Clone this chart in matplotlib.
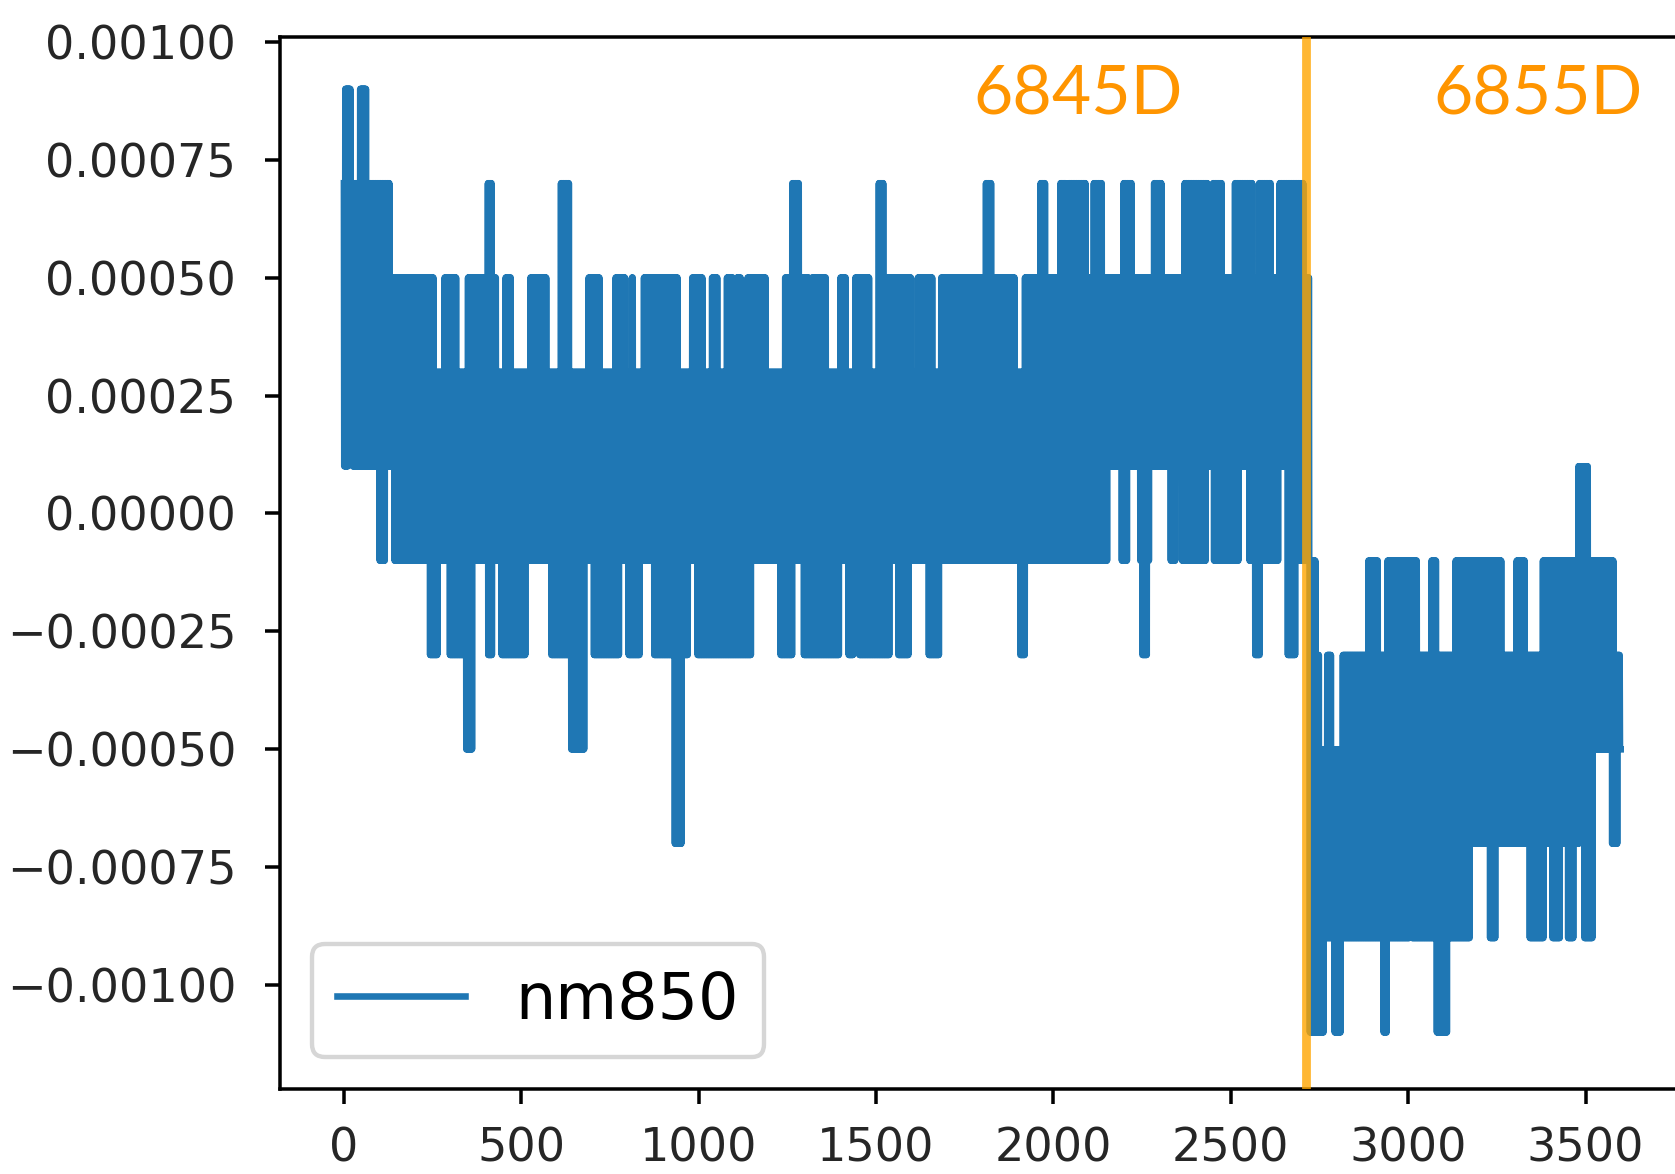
import numpy as np
import matplotlib
matplotlib.use("Agg")
import matplotlib.pyplot as plt
from matplotlib.ticker import FixedLocator, FuncFormatter

# signal nm850: 3600 samples, quantised in steps of 2e-4.
# read from the picture as an envelope: (start sample, level in units of 1e-4)
# each level holds until the next start; the trace flips between upper and lower
n_samples = 3600

upper_env = [
    (0, 7), (3, 9), (20, 7), (45, 9), (64, 7), (130, 5), (254, 3), (283, 5),
    (318, 3), (349, 5), (405, 7), (418, 5), (430, 3), (456, 5), (472, 3),
    (526, 5), (571, 3), (612, 7), (635, 3), (690, 5), (721, 3), (766, 5),
    (793, 3), (811, 5), (815, 3), (846, 5), (941, 3), (982, 5), (1012, 3),
    (1038, 5), (1054, 3), (1080, 5), (1098, 3), (1108, 5), (1120, 3),
    (1138, 5), (1190, 3), (1244, 5), (1264, 7), (1283, 5), (1311, 3),
    (1320, 5), (1359, 3), (1399, 5), (1415, 3), (1441, 5), (1481, 3),
    (1507, 7), (1521, 5), (1600, 3), (1617, 5), (1660, 3), (1684, 5),
    (1810, 7), (1826, 5), (1892, 3), (1920, 5), (1964, 7), (1978, 5),
    (2020, 7), (2036, 5), (2044, 7), (2092, 5), (2114, 7), (2138, 5),
    (2198, 7), (2222, 5), (2283, 7), (2306, 5), (2369, 7), (2436, 5),
    (2450, 7), (2476, 5), (2511, 7), (2562, 5), (2580, 7), (2613, 5),
    (2637, 7), (2705, 5), (2722, -1), (2740, -3), (2750, -5), (2772, -3),
    (2783, -5), (2815, -3), (2888, -1), (2916, -3), (2942, -1), (3025, -3),
    (3065, -1), (3080, -3), (3134, -1), (3264, -3), (3305, -1), (3330, -3),
    (3380, -1), (3480, 1), (3508, -1), (3580, -3), (3598, -5),
]

lower_env = [
    (0, 1), (12, 3), (24, 1), (101, -1), (116, 1), (142, -1), (242, -3),
    (264, -1), (298, -3), (345, -5), (362, -1), (406, -3), (419, -1),
    (444, -3), (512, -1), (585, -3), (640, -5), (678, -1), (705, -3),
    (777, -1), (803, -3), (834, -1), (874, -3), (932, -7), (953, -3),
    (970, -1), (996, -3), (1148, -1), (1230, -3), (1265, -1), (1296, -3),
    (1396, -1), (1422, -3), (1436, -1), (1453, -3), (1538, -1), (1562, -3),
    (1593, -1), (1648, -3), (1678, -1), (1907, -3), (1921, -1), (2152, 1),
    (2192, -1), (2209, 1), (2244, -1), (2250, -3), (2264, -1), (2270, 1),
    (2330, -1), (2345, 1), (2362, -1), (2431, 1), (2453, -1), (2523, 1),
    (2553, -1), (2568, -3), (2583, -1), (2635, 1), (2660, -3), (2682, -1),
    (2722, -11), (2762, -9), (2793, -11), (2811, -9), (2930, -11),
    (2940, -9), (3004, -7), (3010, -9), (3080, -11), (3110, -9), (3175, -7),
    (3230, -9), (3246, -7), (3342, -9), (3383, -7), (3407, -9), (3428, -7),
    (3450, -9), (3466, -7), (3482, -5), (3496, -9), (3520, -5), (3575, -7),
    (3590, -5),
]

switch_x = 2712
day_labels = ["6845D", "6855D"]
day_label_x = [1774, 3072]
yticks = [-0.001, -0.00075, -0.0005, -0.00025, 0.0, 0.00025, 0.0005, 0.00075, 0.001]
xticks = [0, 500, 1000, 1500, 2000, 2500, 3000, 3500]


def step_values(env, idx):
    starts = np.array([s for s, _ in env])
    levels = np.array([v for _, v in env], dtype=float)
    return levels[np.searchsorted(starts, idx, side="right") - 1]


idx = np.arange(n_samples)
hi = step_values(upper_env, idx)
lo = step_values(lower_env, idx)
nm850 = np.where(idx % 2 == 0, hi, lo) * 1e-4

dpi = 316
fig = plt.figure(figsize=(1675 / dpi, 1174 / dpi), dpi=dpi)
ax = fig.add_axes([0.1672, 0.0724, 0.8385, 0.8961])

ax.plot(idx, nm850, color="#1f77b4", lw=1.5, label="nm850")
ax.axvline(switch_x, color="orange", alpha=0.8, lw=2.0, zorder=3)

for lab, x in zip(day_labels, day_label_x):
    ax.text(x, 0.000887, lab, color="#ff9500", fontsize=15.5, family="Lato",
            ha="left", va="center", clip_on=False)

ax.set_xlim(-180, 3779)
ax.set_ylim(-0.00122, 0.00101)
ax.yaxis.set_major_locator(FixedLocator(yticks))
ax.xaxis.set_major_locator(FixedLocator(xticks))
ax.yaxis.set_major_formatter(FuncFormatter(lambda v, p: f"{v:.5f}".replace("-", "\u2212")))
ax.tick_params(labelsize=10.5, length=3.5, width=0.8, labelcolor="#262626")
ax.tick_params(axis="y", pad=6.5)
ax.tick_params(axis="x", pad=5.0)
ax.spines["right"].set_visible(False)

ax.legend(loc="lower left", fontsize=14.5, borderaxespad=0.5)

fig.savefig("out.png", dpi=dpi)
